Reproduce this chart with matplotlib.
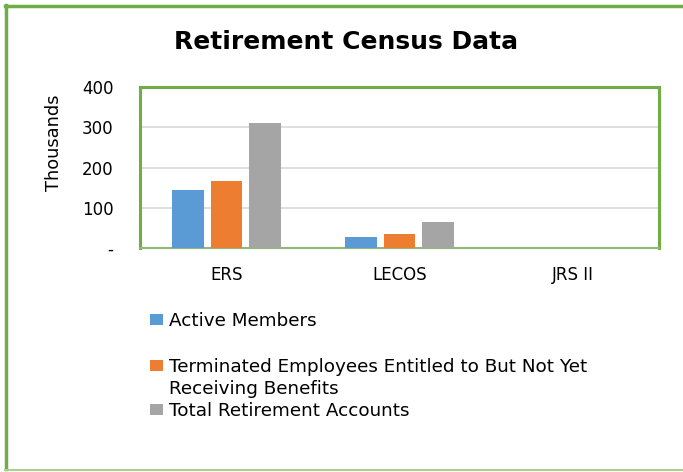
import matplotlib
matplotlib.use("Agg")
import matplotlib.pyplot as plt
from matplotlib.lines import Line2D
import numpy as np

categories = ["ERS", "LECOS", "JRS II"]
series_names = ["Active Members",
                "Terminated Employees Entitled to But Not Yet",
                "Total Retirement Accounts"]
series_name_cont = "Receiving Benefits"
active = [143, 28, 0.5]
terminated = [167, 34, 0.3]
total = [311, 65, 0.8]
colors = ["#5B9BD5", "#ED7D31", "#A5A5A5"]
yticks = [0, 100, 200, 300, 400]
ytick_labels = ["-", "100", "200", "300", "400"]

plt.rcParams["font.family"] = ["DejaVu Sans"]
W, H = 683, 472
fig = plt.figure(figsize=(W / 100, H / 100), dpi=100)

green = "#70AD47"
# outer border (left/top dark, bottom light, right cut off)
fig.add_artist(Line2D([6 / W, 6 / W], [1 - 469 / H, 1 - 5 / H],
                      transform=fig.transFigure, color=green, linewidth=2.5))
fig.add_artist(Line2D([5 / W, 1.0], [1 - 6 / H, 1 - 6 / H],
                      transform=fig.transFigure, color=green, linewidth=2.5))
fig.add_artist(Line2D([5 / W, 1.0], [1 - 469.5 / H, 1 - 469.5 / H],
                      transform=fig.transFigure, color="#A9D18E", linewidth=1.5))

ax = fig.add_axes([140 / W, 1 - 248 / H, (659 - 140) / W, (248 - 87) / H])
x = np.arange(len(categories))
w = 0.18
offs = [-0.2225, 0.0, 0.2225]
bars = []
for vals, off, c in zip([active, terminated, total], offs, colors):
    bars.append(ax.bar(x + off, vals, width=w, color=c, zorder=3))

ax.set_xlim(-0.5, 2.5)
ax.set_ylim(0, 400)
ax.set_yticks(yticks)
ax.set_yticklabels(ytick_labels, fontsize=12)
ax.set_xticks(x)
ax.set_xticklabels(categories, fontsize=12)
ax.tick_params(axis="both", length=0)
ax.tick_params(axis="y", pad=19)
ax.tick_params(axis="x", pad=13)
ax.grid(axis="y", color="#D9D9D9", linewidth=1.2, zorder=0)
for s in ax.spines.values():
    s.set_color(green)
    s.set_linewidth(2.2)
ax.spines["bottom"].set_color("#8FB87A")
ax.spines["bottom"].set_linewidth(1.5)
ax.set_ylabel("Thousands", fontsize=12.8)
ax.yaxis.set_label_coords(-0.148, 0.655)

fig.text(346 / W, 1 - 42 / H, "Retirement Census Data", fontsize=18,
         fontweight="bold", ha="center", va="center")

ys = [321, 367, 411]
for b, name, yy in zip(bars, series_names, ys):
    fig.legend([b], [name], loc="center left",
               bbox_to_anchor=(150 / W, 1 - yy / H),
               frameon=False, fontsize=13.2, handlelength=0.7,
               handleheight=0.55, handletextpad=0.36, borderpad=0,
               borderaxespad=0)
fig.text(169 / W, 1 - 389 / H, series_name_cont, fontsize=13.2,
         ha="left", va="center")

fig.savefig("out.png", dpi=100)
